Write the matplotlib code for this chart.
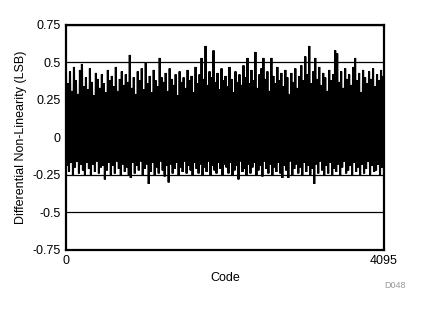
import numpy as np
import matplotlib.pyplot as plt

# DNL envelope: one upper and one lower value per ~26 codes
dnl_high = [
    0.41, 0.36, 0.44, 0.31, 0.47, 0.38, 0.29, 0.45, 0.49, 0.34,
    0.40, 0.32, 0.46, 0.37, 0.28, 0.43, 0.39, 0.33, 0.42, 0.36,
    0.30, 0.45, 0.38, 0.41, 0.34, 0.47, 0.31, 0.39, 0.44, 0.35,
    0.42, 0.37, 0.55, 0.33, 0.40, 0.29, 0.44, 0.38, 0.46, 0.32,
    0.50, 0.36, 0.41, 0.30, 0.45, 0.38, 0.34, 0.53, 0.40, 0.37,
    0.43, 0.31, 0.46, 0.39, 0.35, 0.42, 0.28, 0.44, 0.37, 0.40,
    0.33, 0.45, 0.38, 0.41, 0.30, 0.47, 0.36, 0.42, 0.53, 0.39,
    0.61, 0.35, 0.44, 0.40, 0.58, 0.37, 0.43, 0.32, 0.46, 0.38,
    0.41, 0.34, 0.47, 0.39, 0.30, 0.44, 0.37, 0.42, 0.35, 0.48,
    0.40, 0.53, 0.36, 0.45, 0.38, 0.57, 0.33, 0.42, 0.46, 0.53,
    0.39, 0.44, 0.31, 0.53, 0.41, 0.36, 0.47, 0.38, 0.43, 0.34,
    0.45, 0.40, 0.29, 0.43, 0.37, 0.46, 0.33, 0.41, 0.48, 0.38,
    0.54, 0.42, 0.61, 0.36, 0.44, 0.53, 0.39, 0.47, 0.35, 0.43,
    0.40, 0.31, 0.45, 0.38, 0.42, 0.58, 0.56, 0.37, 0.44, 0.33,
    0.46, 0.39, 0.42, 0.35, 0.47, 0.53, 0.38, 0.43, 0.30, 0.45,
    0.40, 0.36, 0.44, 0.39, 0.46, 0.34, 0.42, 0.38, 0.45, 0.41,
]
dnl_low = [
    -0.19, -0.23, -0.17, -0.25, -0.20, -0.16, -0.24, -0.18, -0.22, -0.25,
    -0.17, -0.21, -0.25, -0.18, -0.23, -0.16, -0.24, -0.20, -0.19, -0.28,
    -0.22, -0.17, -0.25, -0.19, -0.24, -0.16, -0.21, -0.25, -0.18, -0.23,
    -0.20, -0.25, -0.27, -0.17, -0.24, -0.19, -0.22, -0.16, -0.25, -0.21,
    -0.18, -0.31, -0.23, -0.17, -0.25, -0.20, -0.24, -0.16, -0.22, -0.26,
    -0.19, -0.30, -0.18, -0.24, -0.21, -0.17, -0.25, -0.20, -0.23, -0.16,
    -0.24, -0.19, -0.22, -0.25, -0.17, -0.21, -0.24, -0.18, -0.25, -0.20,
    -0.23, -0.16, -0.25, -0.19, -0.22, -0.24, -0.17, -0.21, -0.25, -0.18,
    -0.20, -0.24, -0.17, -0.25, -0.22, -0.19, -0.28, -0.16, -0.23, -0.21,
    -0.25, -0.18, -0.24, -0.20, -0.17, -0.25, -0.22, -0.19, -0.26, -0.16,
    -0.21, -0.24, -0.18, -0.25, -0.20, -0.23, -0.17, -0.24, -0.27, -0.19,
    -0.22, -0.27, -0.16, -0.25, -0.21, -0.18, -0.24, -0.20, -0.25, -0.17,
    -0.23, -0.19, -0.25, -0.21, -0.31, -0.18, -0.24, -0.16, -0.22, -0.25,
    -0.19, -0.24, -0.17, -0.25, -0.21, -0.23, -0.18, -0.25, -0.20, -0.16,
    -0.24, -0.22, -0.19, -0.25, -0.17, -0.23, -0.20, -0.25, -0.18, -0.24,
    -0.21, -0.16, -0.25, -0.19, -0.23, -0.22, -0.18, -0.25, -0.20, -0.27,
]

y_ticks = [-0.75, -0.5, -0.25, 0, 0.25, 0.5, 0.75]
y_tick_labels = ["-0.75", "-0.5", "-0.25", "0", "0.25", "0.5", "0.75"]
x_ticks = [0, 4095]

# interleave high and low values into one trace over the code range
dnl = np.empty(len(dnl_high) * 2)
dnl[0::2] = dnl_high
dnl[1::2] = dnl_low
codes = np.linspace(0, 4095, len(dnl))

plt.rcParams["font.family"] = ["Liberation Sans", "DejaVu Sans"]

fig = plt.figure(figsize=(4.22, 3.12), dpi=100)
ax = fig.add_axes([0.1564, 0.199, 0.7536, 0.721])

ax.plot(codes, dnl, color="black", linewidth=1.5, solid_joinstyle="miter")

ax.set_xlim(0, 4095)
ax.set_ylim(-0.75, 0.75)
ax.set_xticks(x_ticks)
ax.set_xticklabels([str(t) for t in x_ticks])
ax.set_yticks(y_ticks)
ax.set_yticklabels(y_tick_labels)
ax.tick_params(length=0, labelsize=9, pad=4, colors="black")
ax.grid(True, axis="y", color="black", linewidth=0.9)
ax.set_axisbelow(True)
for spine in ax.spines.values():
    spine.set_linewidth(1.6)

ax.set_xlabel("Code", fontsize=9, labelpad=3)
ax.set_ylabel("Differential Non-Linearity (LSB)", fontsize=9, labelpad=4)

fig.text(0.936, 0.086, "D048", fontsize=6.5, color="#999999", ha="center", va="center")

fig.savefig("out.png", dpi=100)
